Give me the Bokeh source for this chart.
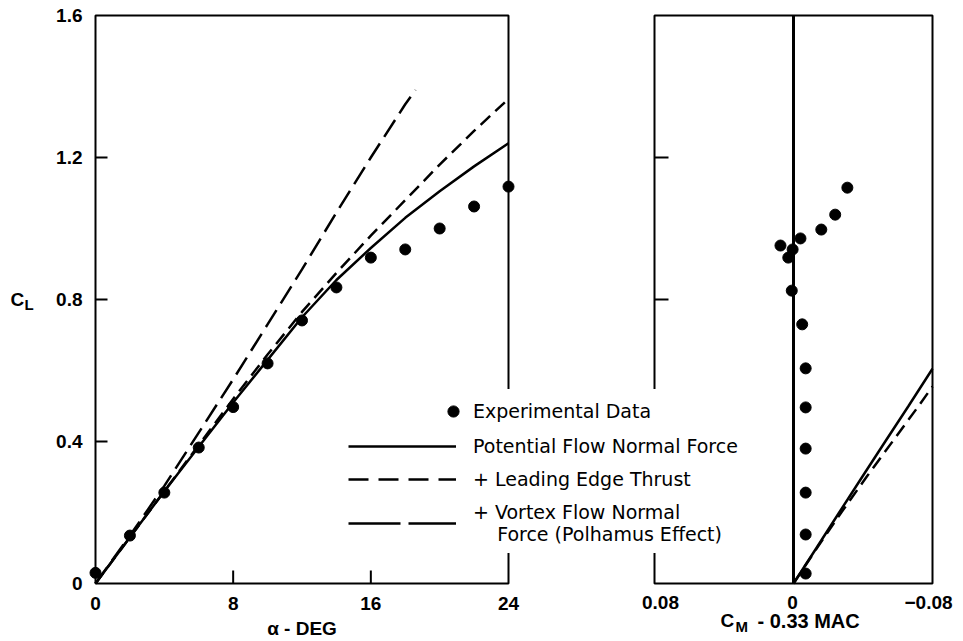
from bokeh.plotting import figure
from bokeh.models import Range1d, Legend, LegendItem
from bokeh.core.properties import value
from bokeh.embed import file_html
from bokeh.resources import INLINE

# ---------------- data ----------------
ALPHA_DOTS = [0, 2, 4, 6, 8, 10, 12, 14, 16, 18, 20, 22, 24]
CL_DOTS = [0.03, 0.135, 0.256, 0.383, 0.497, 0.62, 0.741, 0.834, 0.918, 0.941, 1.0, 1.062, 1.118]

ALPHA_CURVE = [0, 2, 4, 6, 8, 10, 12, 14, 16, 18, 20, 22, 24]
CL_POTENTIAL = [0, 0.13, 0.26, 0.385, 0.51, 0.63, 0.75, 0.855, 0.945, 1.03, 1.105, 1.175, 1.24]
CL_LE_THRUST = [0, 0.13, 0.26, 0.39, 0.52, 0.645, 0.765, 0.875, 0.98, 1.08, 1.18, 1.275, 1.365]
ALPHA_VORTEX = [0, 2, 4, 6, 8, 10, 12, 14, 16, 18, 18.6]
CL_VORTEX = [0, 0.135, 0.275, 0.425, 0.575, 0.73, 0.885, 1.045, 1.2, 1.35, 1.39]

CM_DOTS = [-0.007, -0.007, -0.007, -0.007, -0.007, -0.007, -0.005, 0.001, 0.003, 0.0005,
           0.0075, -0.004, -0.016, -0.024, -0.031]
CL_CM_DOTS = [0.028, 0.138, 0.256, 0.38, 0.496, 0.606, 0.73, 0.825, 0.918, 0.941,
              0.952, 0.972, 0.997, 1.039, 1.115]
CL_CM_POT = [0, 0.1, 0.2, 0.3, 0.4, 0.5, 0.605]
CM_POT = [0, -0.0132, -0.0263, -0.0395, -0.0528, -0.0662, -0.08]
CL_CM_LE = [0, 0.1, 0.2, 0.3, 0.4, 0.5, 0.555]
CM_LE = [0, -0.0135, -0.0275, -0.042, -0.057, -0.072, -0.08]

ALPHA_LIM = (0, 24)
CM_LIM = (0.08, -0.08)
CL_LIM = (0, 1.6)
ALPHA_TICKS = [0, 8, 16, 24]
ALPHA_TICK_LABELS = ["0", "8", "16", "24"]
CM_TICKS = [0.08, 0, -0.08]
CM_TICK_LABELS = ["0.08", "0", "\u22120.08"]
CL_TICKS = [0, 0.4, 0.8, 1.2, 1.6]
CL_TICK_LABELS = ["0", "0.4", "0.8", "1.2", "1.6"]
CL_INNER_TICKS = [0.4, 0.8, 1.2]
ALPHA_INNER_TICKS = [8, 16]

LEGEND_LABELS = ["Experimental Data", "Potential Flow Normal Force", "+ Leading Edge Thrust",
                 "+ Vortex Flow Normal\n\u00a0\u00a0\u00a0\u00a0Force (Polhamus Effect)"]

# ---------------- layout (pixels) ----------------
W, H = 963, 641
LPX = (95, 508)                           # left panel x extent
RPX = (654, 932)                          # right panel x extent
YPX = (583, 15)                           # panel y extent (bottom, top)

a_pp = (ALPHA_LIM[1] - ALPHA_LIM[0]) / (LPX[1] - LPX[0])
cm_pp = (CM_LIM[0] - CM_LIM[1]) / (RPX[1] - RPX[0])
cl_pp = (CL_LIM[1] - CL_LIM[0]) / (YPX[0] - YPX[1])

x_range = Range1d(ALPHA_LIM[0] - LPX[0] * a_pp, ALPHA_LIM[1] + (W - LPX[1]) * a_pp)
cm_range = Range1d(CM_LIM[0] + RPX[0] * cm_pp, CM_LIM[1] - (W - RPX[1]) * cm_pp)
y_range = Range1d(CL_LIM[0] - (H - YPX[0]) * cl_pp, CL_LIM[1] + YPX[1] * cl_pp)

p = figure(width=W, height=H, x_range=x_range, y_range=y_range, title=None,
           output_backend="svg", toolbar_location=None,
           x_axis_location=None, y_axis_location=None,
           min_border=0, min_border_left=0, min_border_right=0,
           min_border_top=0, min_border_bottom=0)
p.extra_x_ranges = {"cm": cm_range}
p.grid.visible = False
p.outline_line_color = None
p.background_fill_color = "white"
p.border_fill_color = "white"

# ---------------- panel frames and inner ticks ----------------
FRAME_W = 2
p.quad(left=[ALPHA_LIM[0]], right=[ALPHA_LIM[1]], bottom=[CL_LIM[0]], top=[CL_LIM[1]],
       fill_color=None, line_color="black", line_width=FRAME_W)
p.quad(left=[CM_LIM[0]], right=[CM_LIM[1]], bottom=[CL_LIM[0]], top=[CL_LIM[1]],
       fill_color=None, line_color="black", line_width=FRAME_W, x_range_name="cm")
p.segment(x0=[0], y0=[CL_LIM[0]], x1=[0], y1=[CL_LIM[1]], line_color="black",
          line_width=3, x_range_name="cm")

n = len(CL_INNER_TICKS)
p.segment(x0=[ALPHA_LIM[0]] * n, x1=[ALPHA_LIM[0] + 12 * a_pp] * n,
          y0=CL_INNER_TICKS, y1=CL_INNER_TICKS, line_color="black", line_width=2)
p.segment(x0=[CM_LIM[0]] * n, x1=[CM_LIM[0] - 14 * cm_pp] * n,
          y0=CL_INNER_TICKS, y1=CL_INNER_TICKS, line_color="black", line_width=2,
          x_range_name="cm")
m = len(ALPHA_INNER_TICKS)
p.segment(x0=ALPHA_INNER_TICKS, x1=ALPHA_INNER_TICKS, y0=[CL_LIM[0]] * m,
          y1=[CL_LIM[0] + 13 * cl_pp] * m, line_color="black", line_width=2)

# ---------------- tick labels and axis titles ----------------
TF = value("Liberation Sans")
tick = dict(text_font=TF, text_font_style="bold", text_font_size="19px", text_color="black",
            text_baseline="middle")
p.text(x=[ALPHA_LIM[0]] * len(CL_TICKS), y=CL_TICKS, text=CL_TICK_LABELS,
       x_offset=-13, text_align="right", **tick)
p.text(x=ALPHA_TICKS, y=[CL_LIM[0]] * len(ALPHA_TICKS), text=ALPHA_TICK_LABELS,
       y_offset=20, text_align="center", **tick)
p.text(x=CM_TICKS, y=[CL_LIM[0]] * len(CM_TICKS), text=CM_TICK_LABELS,
       x_offset=[6, -1, -4], y_offset=19, text_align="center", x_range_name="cm", **tick)

p.text(x=[sum(ALPHA_LIM) / 2], y=[CL_LIM[0]], text=["\u03b1 - DEG"], y_offset=45,
       text_align="center", **tick)
p.text(x=[0, 0, 0], y=[CL_LIM[0]] * 3, text=["C", "M", "- 0.33 MAC"],
       x_offset=[-73, -58, -36], y_offset=[37, 43, 37], text_align="left",
       x_range_name="cm", text_font=TF, text_font_style="bold",
       text_font_size=["19px", "15px", "20px"], text_color="black", text_baseline="middle")
p.text(x=[ALPHA_LIM[0]] * 2, y=[0.8, 0.8], text=["C", "L"], x_offset=[-85, -71],
       y_offset=[0, 5], text_align="left", text_font=TF, text_font_style="bold",
       text_font_size=["19px", "15px"], text_color="black", text_baseline="middle")

# ---------------- data marks ----------------
LW = 2.5
r_pot = p.line(ALPHA_CURVE, CL_POTENTIAL, line_color="black", line_width=LW)
p.line(ALPHA_CURVE, CL_LE_THRUST, line_color="black", line_width=LW, line_dash="13 7")
p.line(ALPHA_VORTEX, CL_VORTEX, line_color="black", line_width=LW, line_dash="20 8")
r_dots = p.scatter(ALPHA_DOTS, CL_DOTS, size=11, color="black")

p.line(CM_POT, CL_CM_POT, line_color="black", line_width=LW, x_range_name="cm")
p.line(CM_LE, CL_CM_LE, line_color="black", line_width=LW, line_dash="13 7", x_range_name="cm")
p.scatter(CM_DOTS, CL_CM_DOTS, size=11, color="black", x_range_name="cm")

# legend keys (dash patterns as drawn in the legend box); they draw nothing in the plot
NAN = float("nan")
k_le = p.line([NAN], [NAN], line_color="black", line_width=LW, line_dash="20 10")
k_vx = p.line([NAN], [NAN], line_color="black", line_width=LW, line_dash="52 8")

# a white (invisible) border keeps the padding, so the white boxes hide the panel edges
common = dict(margin=0, background_fill_color="white", background_fill_alpha=1.0,
              border_line_color="white", label_text_font="DejaVu Sans",
              label_text_font_size="19px", label_text_color="black",
              label_height=22, label_width=263)

legB = Legend(items=[LegendItem(label=LEGEND_LABELS[1], renderers=[r_pot]),
                     LegendItem(label=LEGEND_LABELS[2], renderers=[k_le]),
                     LegendItem(label=LEGEND_LABELS[3], renderers=[k_vx])],
              location=(340, H - 553), glyph_width=108, glyph_height=22, padding=7,
              label_standoff=17, spacing=11, **common)
legA = Legend(items=[LegendItem(label=LEGEND_LABELS[0], renderers=[r_dots])],
              location=(431, H - 433), glyph_width=28, glyph_height=28, padding=7,
              label_standoff=6, spacing=0, **common)
p.add_layout(legB)
p.add_layout(legA)

open("out.html", "w").write(file_html(p, INLINE))
